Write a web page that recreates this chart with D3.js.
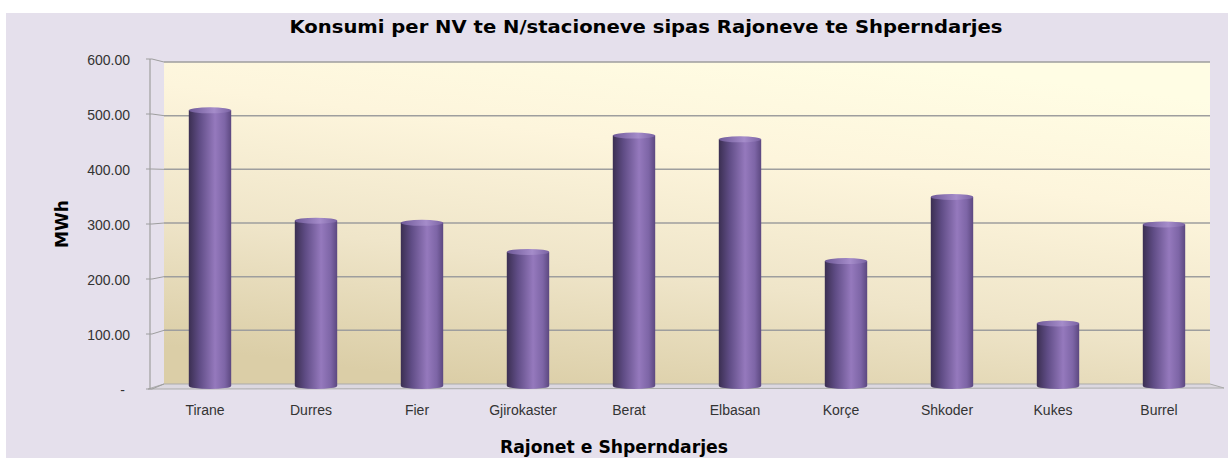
<!DOCTYPE html>
<html>
<head>
<meta charset="utf-8">
<script src="https://cdn.jsdelivr.net/npm/d3@7.9.0/dist/d3.min.js"></script>
<style>
  body { margin: 0; background: #fff; }
  svg { display: block; }
  text { font-family: "Liberation Sans", Arial, sans-serif; }
  .heading { font-family: "DejaVu Sans", Verdana, sans-serif; font-weight: bold; }
</style>
</head>
<body>
<div id="chart"></div>
<script>
// data
const regions = ["Tirane", "Durres", "Fier", "Gjirokaster", "Berat", "Elbasan", "Korçe", "Shkoder", "Kukes", "Burrel"];
const consumption = [514, 309, 305, 251, 467, 460, 234, 353, 118, 302];
const yTicks = [0, 100, 200, 300, 400, 500, 600];

const width = 1230;
const height = 459;

const svg = d3.select("#chart").append("svg")
  .attr("width", width)
  .attr("height", height);

const defs = svg.append("defs");

// wall gradient, cream at the top to beige at the floor
const wallGrad = defs.append("linearGradient")
  .attr("id", "wall").attr("x1", 0.3).attr("y1", 1).attr("x2", 0.7).attr("y2", 0);
wallGrad.append("stop").attr("offset", "0%").attr("stop-color", "#dbcea7");
wallGrad.append("stop").attr("offset", "35%").attr("stop-color", "#efe5c9");
wallGrad.append("stop").attr("offset", "70%").attr("stop-color", "#fdf5dc");
wallGrad.append("stop").attr("offset", "100%").attr("stop-color", "#fffde4");

// cylinder shading
const barGrad = defs.append("linearGradient")
  .attr("id", "cyl").attr("x1", 0).attr("y1", 0).attr("x2", 1).attr("y2", 0);
barGrad.append("stop").attr("offset", "0%").attr("stop-color", "#3b2f52");
barGrad.append("stop").attr("offset", "25%").attr("stop-color", "#5f4c85");
barGrad.append("stop").attr("offset", "62%").attr("stop-color", "#9579bd");
barGrad.append("stop").attr("offset", "85%").attr("stop-color", "#7d65a6");
barGrad.append("stop").attr("offset", "100%").attr("stop-color", "#5c4880");

const capGrad = defs.append("linearGradient")
  .attr("id", "cap").attr("x1", 0).attr("y1", 0).attr("x2", 1).attr("y2", 0);
capGrad.append("stop").attr("offset", "0%").attr("stop-color", "#6f5a98");
capGrad.append("stop").attr("offset", "60%").attr("stop-color", "#a58cca");
capGrad.append("stop").attr("offset", "100%").attr("stop-color", "#7a63a3");

// outer panel
svg.append("rect")
  .attr("x", 6).attr("y", 13)
  .attr("width", 1222).attr("height", 445)
  .attr("fill", "#e5e0ec");

// back wall / front plane geometry
const wall = { left: 164, right: 1210, top: 62, bottom: 384 };
const front = { left: 150, top: 59, bottom: 389 };

const yBack = d3.scaleLinear().domain([0, 600]).range([wall.bottom, wall.top]);
const yFront = d3.scaleLinear().domain([0, 600]).range([front.bottom, front.top]);
const yBar = d3.scaleLinear().domain([0, 600]).range([386, 63]);

const x = d3.scaleBand().domain(regions).range([157, 1217]).paddingInner(0.6).paddingOuter(0.3);

svg.append("rect")
  .attr("x", wall.left).attr("y", wall.top)
  .attr("width", wall.right - wall.left).attr("height", wall.bottom - wall.top)
  .attr("fill", "url(#wall)");

// floor
svg.append("path")
  .attr("d", `M${front.left - 2},${front.bottom} L${wall.left},${wall.bottom} L${wall.right},${wall.bottom} L${wall.right + 14},${front.bottom - 1} Z`)
  .attr("fill", "#dcd8e0")
  .attr("stroke", "#ababab")
  .attr("stroke-width", 1);

// gridlines on the back wall plus connectors to the front axis
const grid = svg.append("g");
grid.selectAll("line.grid")
  .data(yTicks.filter((d) => d > 0))
  .join("line")
  .attr("class", "grid")
  .attr("x1", wall.left).attr("x2", wall.right)
  .attr("y1", (d) => yBack(d)).attr("y2", (d) => yBack(d))
  .attr("stroke", "#9e9e9e").attr("stroke-width", 1.5);

grid.selectAll("path.conn")
  .data(yTicks)
  .join("path")
  .attr("class", "conn")
  .attr("d", (d) => `M${front.left - 4},${yFront(d)} L${front.left + 2},${yFront(d)} L${wall.left},${yBack(d)}`)
  .attr("fill", "none")
  .attr("stroke", "#9e9e9e").attr("stroke-width", 1);

// front vertical axis
svg.append("line")
  .attr("x1", front.left).attr("x2", front.left)
  .attr("y1", front.top).attr("y2", front.bottom)
  .attr("stroke", "#9e9e9e").attr("stroke-width", 1.2);

// tick labels
svg.append("g").selectAll("text")
  .data(yTicks)
  .join("text")
  .attr("x", (d) => (d === 0 ? 125 : 130))
  .attr("y", (d) => yFront(d) + 1)
  .attr("dy", "0.35em")
  .attr("text-anchor", "end")
  .attr("font-size", 14)
  .attr("fill", "#333")
  .text((d) => (d === 0 ? "-" : d3.format(".2f")(d)));

// cylinders
const bars = svg.append("g");
const capRy = 3;
bars.selectAll("path.body")
  .data(consumption)
  .join("path")
  .attr("class", "body")
  .attr("d", (d, i) => {
    const x0 = x(regions[i]);
    const w = x.bandwidth();
    const yt = yBar(d) + 1;
    const yb = yBar(0);
    return `M${x0},${yt} L${x0},${yb} A${w / 2},${capRy} 0 0 0 ${x0 + w},${yb} L${x0 + w},${yt} Z`;
  })
  .attr("fill", "url(#cyl)");

bars.selectAll("ellipse")
  .data(consumption)
  .join("ellipse")
  .attr("cx", (d, i) => x(regions[i]) + x.bandwidth() / 2)
  .attr("cy", (d) => yBar(d) + 1)
  .attr("rx", x.bandwidth() / 2)
  .attr("ry", capRy)
  .attr("fill", "url(#cap)");

// category labels sit on the front plane, a little left of the bars
svg.append("g").selectAll("text")
  .data(regions)
  .join("text")
  .attr("x", (d) => x(d) + x.bandwidth() / 2 - 5)
  .attr("y", 415)
  .attr("text-anchor", "middle")
  .attr("font-size", 14)
  .attr("fill", "#333")
  .text((d) => d);

// titles
svg.append("text")
  .attr("class", "heading")
  .attr("x", 646).attr("y", 33)
  .attr("text-anchor", "middle")
  .attr("font-size", 17)
  .attr("textLength", 713)
  .attr("lengthAdjust", "spacingAndGlyphs")
  .attr("fill", "#000")
  .text("Konsumi per NV te N/stacioneve sipas Rajoneve te Shperndarjes");

svg.append("text")
  .attr("class", "heading")
  .attr("x", 614).attr("y", 453)
  .attr("text-anchor", "middle")
  .attr("font-size", 17)
  .attr("textLength", 228)
  .attr("lengthAdjust", "spacingAndGlyphs")
  .attr("fill", "#000")
  .text("Rajonet e Shperndarjes");

svg.append("text")
  .attr("class", "heading")
  .attr("transform", "translate(68,224) rotate(-90)")
  .attr("text-anchor", "middle")
  .attr("font-size", 17)
  .attr("textLength", 48)
  .attr("lengthAdjust", "spacingAndGlyphs")
  .attr("fill", "#000")
  .text("MWh");
</script>
</body>
</html>
